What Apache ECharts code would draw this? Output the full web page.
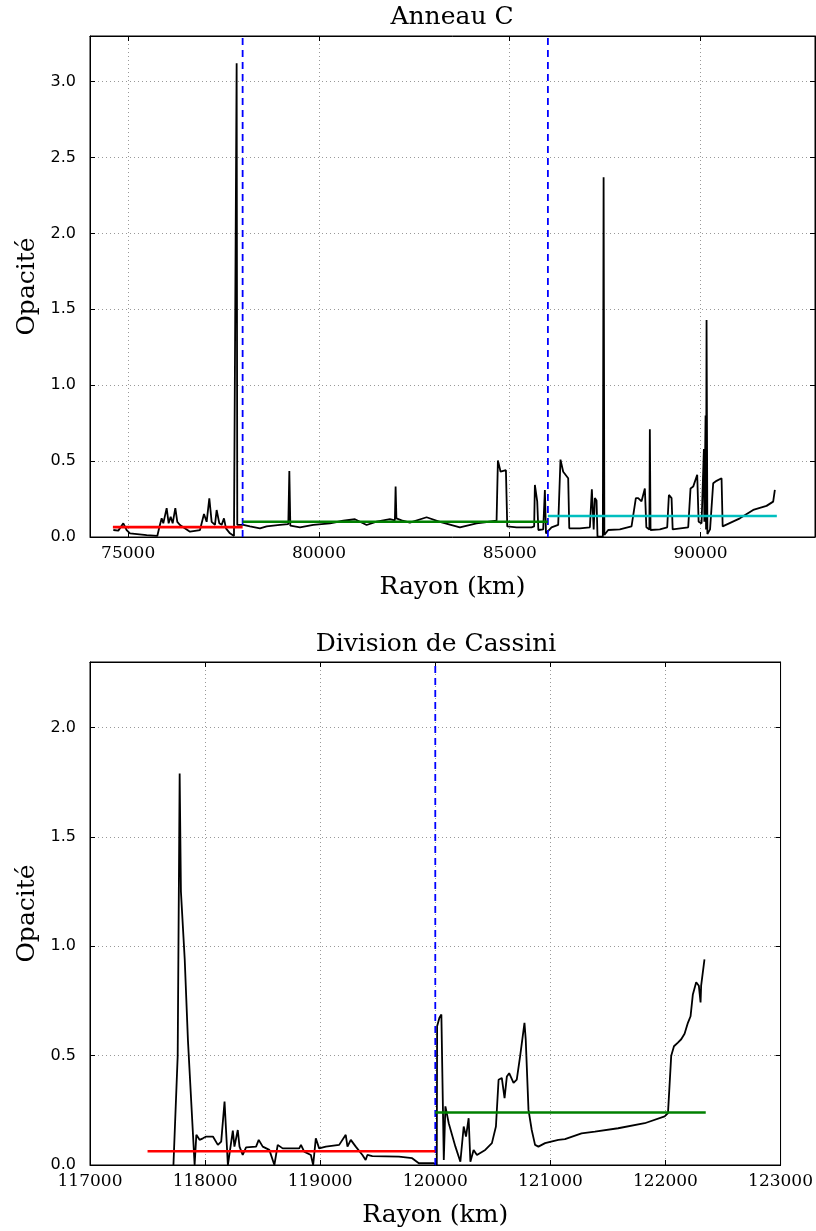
<!DOCTYPE html>
<html>
<head>
<meta charset="utf-8">
<script src="https://cdn.jsdelivr.net/npm/echarts@6/dist/echarts.min.js"></script>
<style>
html,body{margin:0;padding:0;background:#fff;}
#chart{width:816px;height:1231px;}
</style>
</head>
<body>
<div id="chart"></div>
<script>
// ---------- Data: Anneau C ----------
const ringCRadius = [74611,74742,74873,74960,75048,75485,75764,75817,75878,75921,76009,76061,76114,76166,76236,76288,76358,76620,76882,76987,77057,77127,77188,77275,77319,77389,77450,77511,77563,77668,77773,77825,77843,77860,78018,78192,78454,78629,78978,79197,79224,79250,79503,79852,80288,80637,80943,81249,81511,81861,81990,82009,82030,82166,82384,82821,83170,83694,84131,84655,84690,84760,84900,84935,85179,85572,85640,85659,85720,85750,85877,85921,85950,86095,86270,86330,86401,86532,86560,86838,87100,87152,87200,87231,87275,87300,87440,87460,87480,87580,87886,88192,88305,88366,88454,88541,88580,88660,88672,88690,88934,89127,89171,89241,89270,89677,89738,89808,89852,89913,89950,90027,90088,90100,90132,90145,90158,90180,90250,90332,90420,90551,90580,91031,91380,91730,91904,91948];
const ringCOpacity = [0.046,0.042,0.09,0.046,0.024,0.013,0.007,0.064,0.123,0.09,0.19,0.09,0.134,0.09,0.19,0.10,0.079,0.035,0.046,0.152,0.10,0.255,0.10,0.08,0.178,0.09,0.08,0.123,0.057,0.024,0.007,0.02,3.12,0.08,0.08,0.07,0.057,0.07,0.08,0.085,0.435,0.075,0.064,0.08,0.09,0.107,0.117,0.079,0.101,0.117,0.11,0.332,0.123,0.11,0.095,0.13,0.10,0.064,0.09,0.107,0.504,0.43,0.44,0.07,0.064,0.064,0.07,0.343,0.235,0.046,0.05,0.31,0.024,0.064,0.08,0.51,0.43,0.387,0.057,0.057,0.064,0.315,0.05,0.256,0.24,0.002,0.002,2.37,0.013,0.046,0.05,0.07,0.256,0.256,0.235,0.32,0.064,0.05,0.71,0.046,0.05,0.064,0.277,0.256,0.05,0.064,0.32,0.332,0.343,0.41,0.1,0.09,0.58,0.1,0.8,0.05,1.43,0.02,0.05,0.354,0.37,0.387,0.07,0.123,0.178,0.205,0.233,0.31];
const ringCBoundaries = [78000, 86000];
const ringCMeanStart = [74600, 78000, 86000];
const ringCMeanEnd   = [78000, 86000, 92000];
const ringCMeanValue = [0.065, 0.100, 0.138];
const ringCXTicks = [75000, 80000, 85000, 90000];

// ---------- Data: Division de Cassini ----------
const cassiniRadius = [117725,117762,117779,117790,117823,117851,117909,117924,117952,117981,118010,118068,118111,118140,118169,118198,118241,118255,118284,118299,118327,118356,118443,118466,118501,118558,118602,118631,118674,118818,118833,118861,118919,118939,118962,118991,119049,119165,119222,119237,119266,119309,119367,119395,119410,119453,119684,119799,119857,119987,120013,120016,120036,120053,120074,120088,120117,120175,120218,120247,120267,120290,120305,120333,120362,120434,120492,120527,120550,120578,120602,120622,120642,120680,120708,120737,120775,120786,120810,120838,120867,120896,120954,121069,121127,121271,121387,121589,121820,121993,122022,122050,122074,122108,122137,122166,122195,122218,122238,122267,122290,122305,122310,122339];
const cassiniOpacity = [0,0.5,1.79,1.25,0.94,0.57,0,0.138,0.115,0.122,0.13,0.13,0.092,0.107,0.29,0,0.157,0.084,0.16,0.084,0.046,0.081,0.084,0.115,0.084,0.069,0,0.092,0.076,0.076,0.092,0.061,0.046,0,0.122,0.076,0.084,0.092,0.138,0.084,0.115,0.084,0.046,0.023,0.046,0.041,0.038,0.031,0.008,0.008,0,0.634,0.673,0.688,0.023,0.268,0.191,0.084,0.015,0.176,0.13,0.214,0.015,0.069,0.046,0.069,0.1,0.176,0.39,0.398,0.306,0.405,0.42,0.375,0.39,0.497,0.65,0.573,0.252,0.16,0.092,0.084,0.1,0.115,0.118,0.145,0.153,0.168,0.191,0.222,0.237,0.5,0.543,0.56,0.575,0.6,0.65,0.68,0.78,0.836,0.82,0.743,0.82,0.94];
const cassiniBoundaries = [120000];
const cassiniMeanStart = [117500, 120000];
const cassiniMeanEnd   = [120000, 122350];
const cassiniMeanValue = [0.063, 0.240];

// ---------- Styles ----------
const meanColors = ['#ff0000', '#008000', '#00bfbf'];
const SERIF = 'DejaVu Serif';
const SANS = 'DejaVu Sans';
const gridLine = {show: true, lineStyle: {color: '#999', type: [1, 3], width: 1}};
const blackLine = {show: true, onZero: false, lineStyle: {color: '#000', width: 1}};

function zip(xs, ys) { return xs.map((x, i) => [x, ys[i]]); }

function panelAxes(gridIndex, xmin, xmax, xticks, xinterval, ymax, yinterval) {
  const xTick = {inside: true, length: 5, lineStyle: {color: '#000'}};
  const yTick = {inside: true, length: 5, lineStyle: {color: '#000'}};
  if (xticks) xTick.customValues = xticks;
  const bottomX = {
    type: 'value', gridIndex, min: xmin, max: xmax, position: 'bottom',
    axisLine: blackLine,
    axisTick: xTick,
    axisLabel: Object.assign({color: '#000', fontFamily: SERIF, fontSize: 17, margin: 8,
      formatter: v => String(v)}, xticks ? {customValues: xticks} : {}),
    splitLine: gridLine,
    name: 'Rayon (km)', nameLocation: 'middle', nameGap: 38,
    nameTextStyle: {color: '#000', fontFamily: SERIF, fontSize: 25}
  };
  if (xinterval) bottomX.interval = xinterval;
  const topX = {
    type: 'value', gridIndex, min: xmin, max: xmax, position: 'top',
    axisLine: blackLine,
    axisTick: xTick, axisLabel: {show: false}, splitLine: {show: false}
  };
  if (xinterval) topX.interval = xinterval;
  const leftY = {
    type: 'value', gridIndex, min: 0, max: ymax, interval: yinterval, position: 'left',
    axisLine: blackLine,
    axisTick: yTick,
    axisLabel: {color: '#000', fontFamily: SANS, fontSize: 16, margin: 14, showMaxLabel: false,
      formatter: v => v.toFixed(1)},
    splitLine: gridLine,
    name: 'Opacité', nameLocation: 'middle', nameGap: 50, nameRotate: 90,
    nameTextStyle: {color: '#000', fontFamily: SERIF, fontSize: 25}
  };
  const rightY = {
    type: 'value', gridIndex, min: 0, max: ymax, interval: yinterval, position: 'right',
    axisLine: blackLine,
    axisTick: yTick, axisLabel: {show: false}, splitLine: {show: false}
  };
  return {x: [bottomX, topX], y: [leftY, rightY]};
}

const a0 = panelAxes(0, 74000, 93000, ringCXTicks, null, 3.3, 0.5);
const a1 = panelAxes(1, 117000, 123000, null, 1000, 2.3, 0.5);

const series = [];
function addPanel(xi, yi, radius, opacity, bounds, mStart, mEnd, mVal, ymax) {
  series.push({
    type: 'line', xAxisIndex: xi, yAxisIndex: yi, data: zip(radius, opacity),
    showSymbol: false, symbol: 'none', lineStyle: {color: '#000', width: 1.8}, z: 2
  });
  bounds.forEach(b => series.push({
    type: 'line', xAxisIndex: xi, yAxisIndex: yi, data: [[b, 0], [b, ymax]],
    showSymbol: false, symbol: 'none', lineStyle: {color: '#0000ff', width: 1.8, type: [7, 5]}, z: 3
  }));
  mVal.forEach((v, i) => series.push({
    type: 'line', xAxisIndex: xi, yAxisIndex: yi, data: [[mStart[i], v], [mEnd[i], v]],
    showSymbol: false, symbol: 'none', lineStyle: {color: meanColors[i], width: 2.6}, z: 4
  }));
}
addPanel(0, 0, ringCRadius, ringCOpacity, ringCBoundaries, ringCMeanStart, ringCMeanEnd, ringCMeanValue, 3.3);
addPanel(2, 2, cassiniRadius, cassiniOpacity, cassiniBoundaries, cassiniMeanStart, cassiniMeanEnd, cassiniMeanValue, 2.3);

const option = {
  animation: false,
  backgroundColor: '#fff',
  grid: [
    {left: 90, top: 36, width: 725, height: 501, show: true, borderColor: '#000', borderWidth: 1, backgroundColor: 'transparent'},
    {left: 90, top: 662, width: 693, height: 503, show: true, borderColor: '#000', borderWidth: 1, backgroundColor: 'transparent'}
  ],
  xAxis: [...a0.x, ...a1.x],
  yAxis: [...a0.y, ...a1.y],
  graphic: [
    {type: 'text', x: 452, y: 5, style: {text: 'Anneau C', fill: '#000', font: '25px "DejaVu Serif"', textAlign: 'center'}},
    {type: 'text', x: 436, y: 632, style: {text: 'Division de Cassini', fill: '#000', font: '25px "DejaVu Serif"', textAlign: 'center'}}
  ],
  series
};
echarts.init(document.getElementById('chart'), null, {renderer: 'canvas'}).setOption(option);
</script>
</body>
</html>
